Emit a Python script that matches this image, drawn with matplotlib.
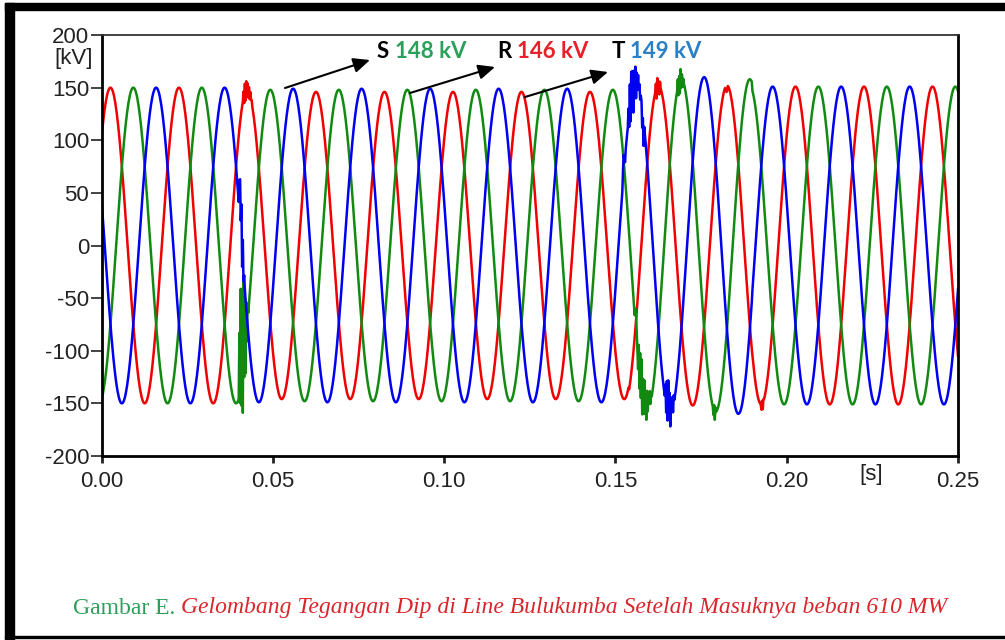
import numpy as np
import matplotlib
matplotlib.use("Agg")
import matplotlib.pyplot as plt
from matplotlib.patches import Rectangle

plt.rcParams['axes.unicode_minus'] = False
plt.rcParams['font.family'] = ['Liberation Sans', 'DejaVu Sans']

# --- data ----------------------------------------------------------------
freq = 50.0                      # Hz
dt = 0.0002                      # s, sample step
t_end = 0.25

phase_names = ['R', 'S', 'T']
phase_deg = [44, -76, 164]       # angle at t = 0

# peak amplitude (kV) per time segment
amp_times = [0.0, 0.0425, 0.154, 0.19]
amp_R = [150, 146, 152, 151]
amp_S = [150, 148, 158, 151]
amp_T = [150, 149, 160, 151]

# switching disturbances: (start time, offsets in kV on the dt grid)
dist_R = [(0.0412, [0, 6, -8, 8, -10, 7, -6, 8, -5, 6, -4, 5, 0, 3, 0]),
          (0.1615, [0, 6, -10, 8, -6, 4, -8, 5, 0]),
          (0.1820, [0, -4, -6, -5, 0]),
          (0.1925, [0, -5, 3, -6, 2, 0])]
dist_S = [(0.0400, [0, 60, -10, 95, -20, 70, -37, 85, -15, 50, -25, 35, -10, 15, 0]),
          (0.1556, [0, 15, 20, 10, 0, -10, 20, -15, 25, -12, 30, -18, 20, -10,
                    25, -5, 15, -8, 20, 0, 10, 5, 15, 0, 8, 0, 0]),
          (0.1680, [0, 8, -10, 6, -12, 10, -8, 5, -6, 3, 0]),
          (0.1785, [0, -6, 5, -8, 4, 0])]
dist_T = [(0.0400, [0, 30, 40, 10, 35, -15, 20, -10, 5, 0]),
          (0.1520, [0, 12, 18, 5, -5, 0]),
          (0.1536, [0, 12, -20, 15, -25, 18, -10, 12, -30, 8, -15, 10, -20, 5,
                    -10, 6, -5, 3, -8, 0, 0, -20, -5, -25, 0]),
          (0.1644, [0, 15, -8, 25, -10, 30, -5, 20, -12, 15, 0, 10, -5, 8, 0])]

x_ticks = [0.00, 0.05, 0.10, 0.15, 0.20, 0.25]
y_ticks = [-200, -150, -100, -50, 0, 50, 100, 150, 200]

labels = [('S', '148 kV'), ('R', '146 kV'), ('T', '149 kV')]

line_colors = {'R': '#f00000', 'S': '#128a12', 'T': '#0000f0'}
text_colors = {'R': '#e8202a', 'S': '#2aa05a', 'T': '#2a80c4'}

# --- build waveforms -----------------------------------------------------
t = np.arange(0, t_end + dt / 2, dt)


def waveform(amps, ang, dists):
    seg = np.searchsorted(amp_times, t, side='right') - 1
    a = np.array(amps, dtype=float)[seg]
    v = a * np.sin(2 * np.pi * freq * t + np.radians(ang))
    for start, offs in dists:
        i0 = int(round(start / dt))
        v[i0:i0 + len(offs)] += offs
    return v


waves = {
    'R': waveform(amp_R, phase_deg[0], dist_R),
    'S': waveform(amp_S, phase_deg[1], dist_S),
    'T': waveform(amp_T, phase_deg[2], dist_T),
}

# --- figure --------------------------------------------------------------
W, H = 1005, 640
fig = plt.figure(figsize=(W / 100, H / 100), dpi=100)
ax = fig.add_axes([101.7 / W, 1 - 456 / H, (958 - 101.7) / W, (456 - 35) / H])

for name in phase_names:
    ax.plot(t, waves[name], color=line_colors[name], lw=1.8)

ax.set_xlim(0, 0.25)
ax.set_ylim(-200, 200)
ax.set_xticks(x_ticks)
ax.set_xticklabels(['%.2f' % v for v in x_ticks])
ax.set_yticks(y_ticks)
ax.set_yticklabels([str(v) for v in y_ticks])
ax.tick_params(axis='y', direction='out', length=8, width=1.2, pad=1,
               labelsize=16, colors='#222222')
ax.tick_params(axis='x', direction='out', length=5, width=2, pad=6,
               labelsize=16, colors='#222222')
for s in ['left', 'bottom', 'right']:
    ax.spines[s].set_linewidth(2)
ax.spines['top'].set_linewidth(1.3)
ax.spines['top'].set_color('#333333')

ax.text(-8.7 / (958 - 101.7), 178, '[kV]', transform=ax.get_yaxis_transform(),
        ha='right', va='center', fontsize=16, color='#222222')
ax.text(0.2247, -0.045, '[s]', transform=ax.get_xaxis_transform(),
        ha='center', va='center', fontsize=16, color='#222222')


def fx(px):
    return px / W


def fy(py):
    return 1 - py / H


# phase voltage labels with arrows
label_pos = [(377, 395), (497, 517), (612, 630)]
arrows = [((285, 88), (370, 60)), ((410, 93), (495, 67)), ((525, 97), (608, 72))]
for (ph, val), (xl, xv), (p0, p1) in zip(labels, label_pos, arrows):
    fig.text(fx(xl), fy(51), ph, ha='left', va='center', fontsize=16,
             fontweight='bold', family=['Lato', 'DejaVu Sans'], color='black')
    fig.text(fx(xv), fy(51), val, ha='left', va='center', fontsize=16,
             fontweight='bold', family=['Lato', 'DejaVu Sans'],
             color=text_colors[ph])
    ax.annotate('', xy=(fx(p1[0]), fy(p1[1])), xycoords='figure fraction',
                xytext=(fx(p0[0]), fy(p0[1])), textcoords='figure fraction',
                arrowprops=dict(arrowstyle='-|>,head_length=1.0,head_width=0.45',
                                color='black', lw=1.5, shrinkA=0, shrinkB=0))

# caption
cap1 = fig.text(fx(73), fy(608), 'Gambar E. ', ha='left', va='center',
                fontsize=17, family=['Liberation Serif'], color='#2b9e5a')
fig.canvas.draw()
bb = cap1.get_window_extent()
fig.text(bb.x1 / W, fy(608), 'Gelombang Tegangan Dip di Line Bulukumba Setelah Masuknya beban 610 MW',
         ha='left', va='center', fontsize=17, family=['Liberation Serif'],
         style='italic', color='#d9262c')

# outer frame
fig.patches.append(Rectangle((fx(5), fy(10)), 1 - fx(5), 7 / H,
                             transform=fig.transFigure, color='black'))
fig.patches.append(Rectangle((fx(5), 0), 9 / W, fy(3),
                             transform=fig.transFigure, color='black'))
fig.patches.append(Rectangle((fx(5), fy(638)), 1 - fx(5), 2 / H,
                             transform=fig.transFigure, color='black'))

fig.savefig('out.png', dpi=100)
